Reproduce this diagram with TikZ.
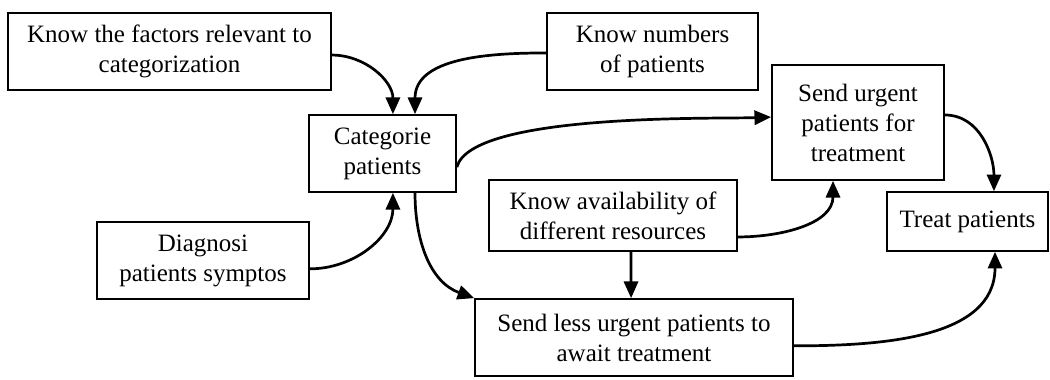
\documentclass[tikz,border=0pt]{standalone}
\usepackage{fontspec}
\setmainfont{Liberation Serif}
\usepackage{tikz}
\usetikzlibrary{arrows.meta}

\begin{document}
\begin{tikzpicture}[x=0.48pt, y=-0.48pt,
	box/.style={draw, line width=0.8pt, align=center, inner sep=1pt, font=\fontsize{12}{14.4}\selectfont},
	link/.style={line width=1.3pt, -{Triangle[length=8pt, width=6.8pt]}}]

\useasboundingbox (0,0) rectangle (1050,379);

\node[box, minimum width=155.0pt, minimum height=37.0pt] (factors) at (169.5,51.5) {Know the factors relevant to\\categorization};
\node[box, minimum width=101.3pt, minimum height=37.0pt] (numbers) at (652.5,51.5) {Know numbers\\of patients};
\node[box, minimum width=70.6pt, minimum height=37.0pt] (categ) at (382.5,153.5) {Categorie\\patients};
\node[box, minimum width=82.6pt, minimum height=55.2pt] (urgent) at (858,122.5) {Send urgent\\patients for\\treatment};
\node[box, minimum width=119.0pt, minimum height=34.1pt] (avail) at (613,215.5) {Know availability of\\different resources};
\node[box, minimum width=101.8pt, minimum height=37.0pt] (diagn) at (203,260.5) {Diagnosi\\patients symptos};
\node[box, minimum width=152.6pt, minimum height=37.0pt] (less) at (634,337.5) {Send less urgent patients to\\await treatment};
\node[box, minimum width=77.3pt, minimum height=28.3pt] (treat) at (967.5,221.5) {Treat patients};

\draw[link] ([yshift=-1.7pt]factors.east) to[out=0, in=90] ([xshift=5pt]categ.north);
\draw[link] ([yshift=-0.7pt]numbers.west) to[out=180, in=90] ([xshift=15.6pt]categ.north);
\draw[link] ([yshift=-4pt]diagn.east) to[out=0, in=-90] ([xshift=5pt]categ.south);
\draw[link] ([yshift=-6.5pt]categ.east) to[out=75, in=182, looseness=0.45] ([yshift=2.6pt]urgent.west);
\draw[link] ([xshift=15.6pt]categ.south) to[out=-90, in=160] (less.north west);
\draw[link] ([yshift=-10.3pt]avail.east) to[out=0, in=-90] ([xshift=-12pt]urgent.south);
\draw[link] ([xshift=8.6pt]avail.south) -- ([xshift=-1.4pt]less.north);
\draw[link] ([yshift=3.6pt]urgent.east) to[out=0, in=90] ([xshift=12.7pt]treat.north);
\draw[link] ([yshift=-4pt]less.east) to[out=0, in=-90] ([xshift=13.2pt]treat.south);

\end{tikzpicture}
\end{document}
